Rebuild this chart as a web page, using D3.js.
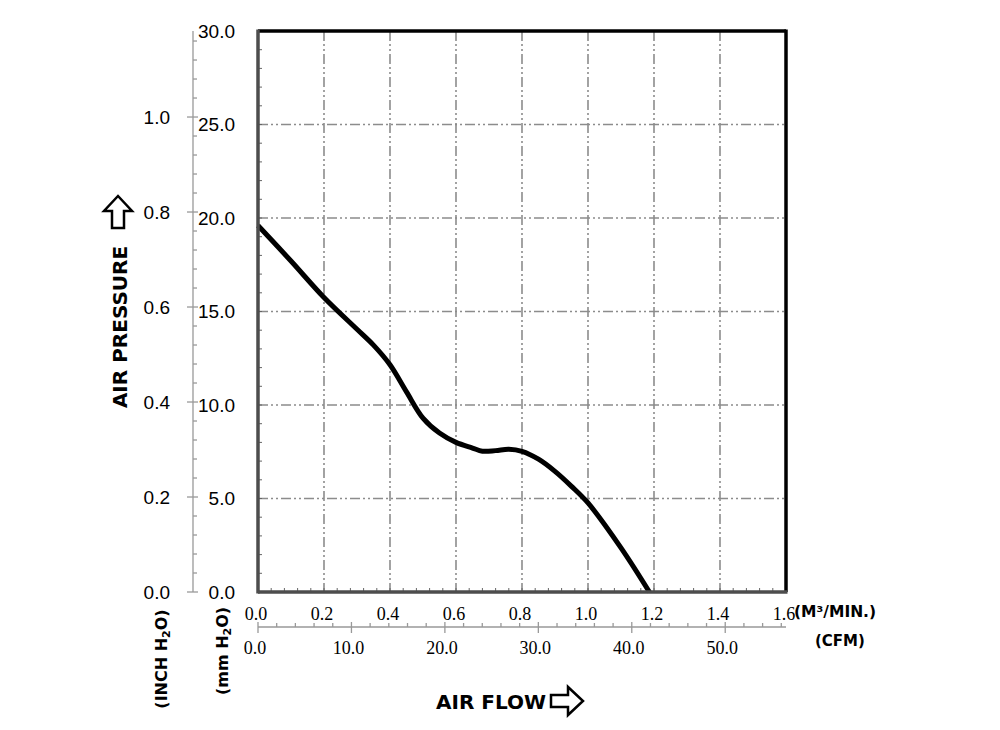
<!DOCTYPE html>
<html>
<head>
<meta charset="utf-8">
<script src="https://cdn.jsdelivr.net/npm/d3@7"></script>
<style>
  body { margin: 0; background: #fff; }
  svg { display: block; }
</style>
</head>
<body>
<svg id="chart" width="1000" height="730"></svg>
<script>
// fan P-Q curve (flow in m3/min, pressure in mm H2O)
const flow = [0, 0.1, 0.2, 0.3, 0.35, 0.4, 0.45, 0.5, 0.55, 0.6, 0.65, 0.68, 0.72, 0.76, 0.8, 0.85, 0.9, 0.95, 1.0, 1.1, 1.186];
const pressure = [19.6, 17.7, 15.75, 14.05, 13.2, 12.15, 10.7, 9.3, 8.5, 8.0, 7.7, 7.53, 7.56, 7.63, 7.52, 7.1, 6.45, 5.65, 4.76, 2.36, 0];

const flowTicks = [0, 0.2, 0.4, 0.6, 0.8, 1.0, 1.2, 1.4, 1.6];
const cfmTicks = [0, 10, 20, 30, 40, 50];
const mmTicks = [0, 5, 10, 15, 20, 25, 30];
const inchTicks = [0, 0.2, 0.4, 0.6, 0.8, 1.0];

const MM_PER_INCH = 25.4;
const CFM_PER_CMM = 35.3147;

const svg = d3.select('#chart');
const pLeft = 258, pRight = 786, pTop = 31, pBottom = 592;

const x = d3.scaleLinear().domain([0, 1.6]).range([pLeft, pRight]);
const y = d3.scaleLinear().domain([0, 30]).range([pBottom, pTop]);
const yInch = d3.scaleLinear().domain([0, 30 / MM_PER_INCH]).range([pBottom, pTop]);
const xCfm = d3.scaleLinear().domain([0, 1.6 * CFM_PER_CMM]).range([pLeft, pRight]);

const sans = 'Arial, "Liberation Sans", sans-serif';
const serif = '"Times New Roman", "Liberation Serif", serif';
const bold = '"DejaVu Sans", Arial, sans-serif';

// grid (dash-dot-dot)
const grid = svg.append('g')
  .attr('stroke', '#8c8c8c')
  .attr('stroke-width', 1.6)
  .attr('stroke-dasharray', '10,3,2,3,2,3');
grid.selectAll('.vg')
  .data(flowTicks.filter(d => d > 0 && d < 1.6))
  .join('line')
    .attr('x1', d => x(d)).attr('x2', d => x(d))
    .attr('y1', pTop).attr('y2', pBottom);
grid.selectAll('.hg')
  .data(mmTicks.filter(d => d > 0 && d < 30))
  .join('line')
    .attr('x1', pLeft).attr('x2', pRight)
    .attr('y1', d => y(d)).attr('y2', d => y(d));

// small ticks inside the frame
const minorMm = d3.range(1, 30);
svg.append('g').selectAll('line')
  .data(minorMm)
  .join('line')
    .attr('x1', pLeft).attr('x2', pLeft + 4)
    .attr('y1', d => y(d)).attr('y2', d => y(d))
    .attr('stroke', '#666').attr('stroke-width', 1);
const minorFlow = d3.range(1, 40).map(i => i * 0.04);
svg.append('g').selectAll('line')
  .data(minorFlow)
  .join('line')
    .attr('x1', d => x(d)).attr('x2', d => x(d))
    .attr('y1', pBottom).attr('y2', pBottom - 4)
    .attr('stroke', '#666').attr('stroke-width', 1);

// curve
const line = d3.line()
  .x((d, i) => x(flow[i]))
  .y(d => y(d))
  .curve(d3.curveCatmullRom.alpha(0.5));
svg.append('path')
  .datum(pressure)
  .attr('d', line)
  .attr('fill', 'none')
  .attr('stroke', '#000')
  .attr('stroke-width', 5)
  .attr('stroke-linejoin', 'round');

// frame: left/bottom dark grey, top/right black
svg.append('line').attr('x1', pLeft).attr('x2', pRight).attr('y1', pTop).attr('y2', pTop)
  .attr('stroke', '#000').attr('stroke-width', 3.5);
svg.append('line').attr('x1', pRight).attr('x2', pRight).attr('y1', pTop - 1.5).attr('y2', pBottom)
  .attr('stroke', '#000').attr('stroke-width', 3.5);
svg.append('line').attr('x1', pLeft).attr('x2', pLeft).attr('y1', pTop - 1.5).attr('y2', pBottom + 1.5)
  .attr('stroke', '#4d4d4d').attr('stroke-width', 3.5);
svg.append('line').attr('x1', pLeft).attr('x2', pRight + 1.5).attr('y1', pBottom).attr('y2', pBottom)
  .attr('stroke', '#4d4d4d').attr('stroke-width', 3.5);

// mm labels
svg.append('g').selectAll('text')
  .data(mmTicks)
  .join('text')
    .attr('x', 235)
    .attr('y', d => y(d))
    .attr('dy', '0.36em')
    .attr('text-anchor', 'end')
    .attr('font-family', sans)
    .attr('font-size', 19)
    .text(d => d.toFixed(1));

// inch axis
const inchAxis = svg.append('g').attr('stroke', '#999').attr('stroke-width', 1.3);
inchAxis.append('line').attr('x1', 193).attr('x2', 193).attr('y1', pTop).attr('y2', pBottom);
inchAxis.selectAll('.maj')
  .data(inchTicks)
  .join('line')
    .attr('x1', 187).attr('x2', 198)
    .attr('y1', d => yInch(d)).attr('y2', d => yInch(d));
inchAxis.selectAll('.min')
  .data(d3.range(1, 30).map(i => i * 0.04).filter(d => yInch(d) >= pTop && Math.abs(d * 5 - Math.round(d * 5)) > 1e-6))
  .join('line')
    .attr('x1', 193).attr('x2', 197)
    .attr('y1', d => yInch(d)).attr('y2', d => yInch(d));
svg.append('g').selectAll('text')
  .data(inchTicks)
  .join('text')
    .attr('x', 170)
    .attr('y', d => yInch(d))
    .attr('dy', '0.36em')
    .attr('text-anchor', 'end')
    .attr('font-family', sans)
    .attr('font-size', 19)
    .text(d => d.toFixed(1));

// flow labels (m3/min)
svg.append('g').selectAll('text')
  .data(flowTicks)
  .join('text')
    .attr('x', d => x(d) - 2)
    .attr('y', 620)
    .attr('text-anchor', 'middle')
    .attr('font-family', serif)
    .attr('font-size', 18)
    .text(d => d.toFixed(1));

// CFM axis
const cfmY = 627;
const cfmAxis = svg.append('g').attr('stroke', '#999').attr('stroke-width', 1.3);
cfmAxis.append('line').attr('x1', pLeft).attr('x2', pRight).attr('y1', cfmY).attr('y2', cfmY);
cfmAxis.selectAll('.maj')
  .data(cfmTicks)
  .join('line')
    .attr('x1', d => xCfm(d)).attr('x2', d => xCfm(d))
    .attr('y1', cfmY - 5).attr('y2', cfmY + 6);
cfmAxis.selectAll('.min')
  .data(d3.range(1, 29).map(i => i * 2).filter(d => d % 10 !== 0))
  .join('line')
    .attr('x1', d => xCfm(d)).attr('x2', d => xCfm(d))
    .attr('y1', cfmY - 4).attr('y2', cfmY);
svg.append('g').selectAll('text')
  .data(cfmTicks)
  .join('text')
    .attr('x', d => xCfm(d) - 3)
    .attr('y', 654)
    .attr('text-anchor', 'middle')
    .attr('font-family', serif)
    .attr('font-size', 18)
    .text(d => d.toFixed(1));

// unit labels
svg.append('text')
  .attr('x', 794).attr('y', 617)
  .attr('font-family', bold).attr('font-weight', 'bold').attr('font-size', 15.5)
  .text('(M³/MIN.)');
svg.append('text')
  .attr('x', 815).attr('y', 646)
  .attr('font-family', bold).attr('font-weight', 'bold').attr('font-size', 15)
  .text('(CFM)');

function sub2(sel, before, after) {
  sel.append('tspan').text(before);
  sel.append('tspan').attr('font-size', 11).attr('dy', 3).text('2');
  sel.append('tspan').attr('dy', -3).text(after);
}
const inchLbl = svg.append('text')
  .attr('transform', 'translate(167,659) rotate(-90)')
  .attr('text-anchor', 'middle')
  .attr('font-family', bold).attr('font-weight', 'bold').attr('font-size', 16);
sub2(inchLbl, '(INCH H', 'O)');
const mmLbl = svg.append('text')
  .attr('transform', 'translate(228,651) rotate(-90)')
  .attr('text-anchor', 'middle')
  .attr('font-family', bold).attr('font-weight', 'bold').attr('font-size', 16);
sub2(mmLbl, '(mm H', 'O)');

// axis titles with hollow arrows
svg.append('text')
  .attr('transform', 'translate(127,327) rotate(-90)')
  .attr('text-anchor', 'middle')
  .attr('font-family', bold).attr('font-weight', 'bold').attr('font-size', 20)
  .text('AIR PRESSURE');
svg.append('text')
  .attr('x', 436).attr('y', 709)
  .attr('font-family', bold).attr('font-weight', 'bold').attr('font-size', 20)
  .text('AIR FLOW');

// right arrow, then the same shape turned upward
const arrow = 'M0,-6 L17,-6 L17,-14 L32,0 L17,14 L17,6 L0,6 Z';
svg.append('path')
  .attr('d', arrow)
  .attr('transform', 'translate(551,701)')
  .attr('fill', '#fff').attr('stroke', '#000').attr('stroke-width', 2.5)
  .attr('stroke-linejoin', 'miter');
svg.append('path')
  .attr('d', arrow)
  .attr('transform', 'translate(118,228) rotate(-90)')
  .attr('fill', '#fff').attr('stroke', '#000').attr('stroke-width', 2.5)
  .attr('stroke-linejoin', 'miter');
</script>
</body>
</html>
